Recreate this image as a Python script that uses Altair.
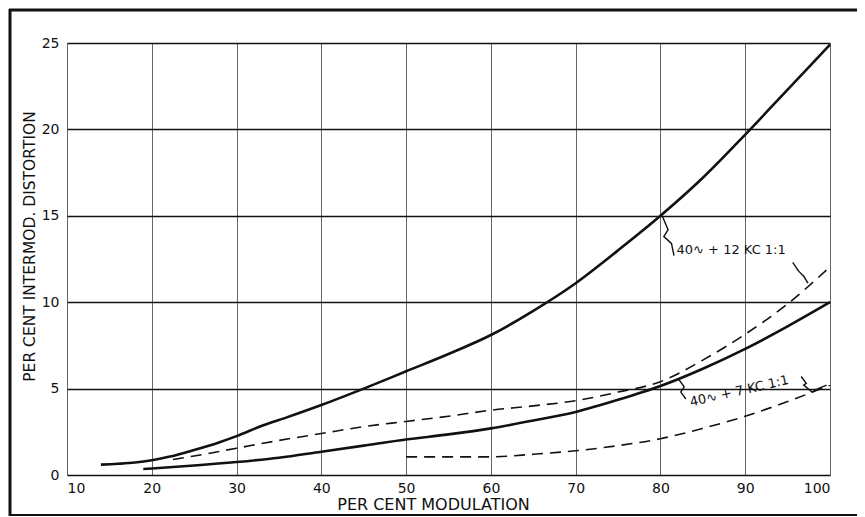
import altair as alt
import pandas as pd

# ---- data ----
x_a = [14, 16, 18, 20, 22, 25, 28, 30, 33, 36, 40, 45, 50, 55, 60, 65, 70, 75, 80, 85, 90, 95, 100]
y_a = [0.6, 0.65, 0.72, 0.85, 1.05, 1.45, 1.9, 2.25, 2.85, 3.35, 4.05, 5.0, 6.0, 7.0, 8.1, 9.5, 11.1, 13.0, 15.0, 17.2, 19.7, 22.3, 24.9]

x_b = [22.5, 25, 30, 35, 40, 45, 50, 55, 60, 65, 70, 75, 80, 85, 90, 95, 100]
y_b = [0.9, 1.1, 1.55, 2.0, 2.4, 2.8, 3.1, 3.4, 3.75, 4.0, 4.3, 4.8, 5.4, 6.65, 8.15, 9.9, 12.05]

x_c = [19, 20, 25, 30, 35, 40, 45, 50, 55, 60, 65, 70, 75, 80, 85, 90, 95, 100]
y_c = [0.35, 0.38, 0.55, 0.75, 1.0, 1.35, 1.7, 2.05, 2.35, 2.7, 3.15, 3.65, 4.35, 5.15, 6.15, 7.3, 8.6, 10.0]

x_d = [50, 55, 60, 65, 70, 75, 80, 85, 90, 95, 100]
y_d = [1.05, 1.05, 1.05, 1.2, 1.4, 1.7, 2.1, 2.7, 3.4, 4.25, 5.2]

x_ticks = [10, 20, 30, 40, 50, 60, 70, 80, 90, 100]
y_ticks = [0, 5, 10, 15, 20, 25]

label_12 = "40∿ + 12 KC  1:1"
label_7 = "40∿ + 7 KC  1:1"

# leader squiggles (data coordinates)
lead_12a_x = [80.2, 80.9, 80.4, 81.3, 81.6]
lead_12a_y = [15.0, 14.2, 13.8, 13.4, 12.7]
lead_12b_x = [95.6, 96.3, 96.1, 96.9, 97.4]
lead_12b_y = [12.3, 11.8, 11.9, 11.5, 11.1]
lead_7a_x = [82.2, 82.8, 82.4, 83.0]
lead_7a_y = [5.5, 5.1, 4.8, 4.4]
lead_7b_x = [96.6, 97.2, 96.9, 97.9, 98.6, 99.6]
lead_7b_y = [5.7, 5.3, 5.2, 4.8, 5.0, 5.2]

def frame(xs, ys, name):
    return pd.DataFrame({"x": xs, "y": ys, "s": name, "o": range(len(xs))})

solid = pd.concat([frame(x_a, y_a, "A"), frame(x_c, y_c, "C")])
dashed = pd.concat([frame(x_b, y_b, "B"), frame(x_d, y_d, "D")])
leads = pd.concat([
    frame(lead_12a_x, lead_12a_y, "L1"),
    frame(lead_12b_x, lead_12b_y, "L2"),
    frame(lead_7a_x, lead_7a_y, "L3"),
    frame(lead_7b_x, lead_7b_y, "L4"),
])

xs = alt.Scale(domain=[10, 100], nice=False, zero=False)
ys = alt.Scale(domain=[0, 25], nice=False)

X = alt.X("x:Q", scale=xs, axis=alt.Axis(
    values=x_ticks, title="PER CENT MODULATION", grid=True, gridColor="#666", gridWidth=1,
    ticks=False, domain=False, labelPadding=6, labelFontSize=14, labelColor="#111",
    labelFont="DejaVu Sans", titleFont="DejaVu Sans", titleFontSize=16, titleFontWeight="normal",
    titleX=366, titleY=21, titleAlign="center", titleBaseline="top", titleColor="#111"))
Y = alt.Y("y:Q", scale=ys, axis=alt.Axis(
    values=y_ticks, title="PER CENT INTERMOD. DISTORTION", grid=True, gridColor="#111", gridWidth=1.3,
    ticks=False, domain=False, labelPadding=8, labelFontSize=14, labelColor="#111",
    labelFont="DejaVu Sans", titleFont="DejaVu Sans", titleFontSize=15.5, titleFontWeight="normal",
    titleX=-38, titleY=203, titleAngle=270, titleAlign="center", titleBaseline="middle", titleColor="#111"))

base = alt.Chart(solid).mark_line(color="#111", strokeWidth=2.6, interpolate="monotone").encode(
    x=X, y=Y, detail="s:N", order="o:Q")

dash = alt.Chart(dashed).mark_line(color="#111", strokeWidth=1.6, strokeDash=[11, 7], interpolate="monotone").encode(
    x=alt.X("x:Q", scale=xs), y=alt.Y("y:Q", scale=ys), detail="s:N", order="o:Q")

lead = alt.Chart(leads).mark_line(color="#111", strokeWidth=1.4).encode(
    x=alt.X("x:Q", scale=xs), y=alt.Y("y:Q", scale=ys), detail="s:N", order="o:Q")

t12 = alt.Chart(pd.DataFrame({"x": [81.9], "y": [13.0], "t": [label_12]})).mark_text(
    align="left", baseline="middle", font="DejaVu Sans", fontSize=13, color="#111").encode(
    x=alt.X("x:Q", scale=xs), y=alt.Y("y:Q", scale=ys), text="t:N")

t7 = alt.Chart(pd.DataFrame({"x": [89.3], "y": [4.85], "t": [label_7]})).mark_text(
    align="center", baseline="middle", font="DejaVu Sans", fontSize=13, color="#111", angle=347).encode(
    x=alt.X("x:Q", scale=xs), y=alt.Y("y:Q", scale=ys), text="t:N")

one = pd.DataFrame({"a": [0]})
border_left = alt.Chart(one).mark_rule(color="#111", strokeWidth=3).encode(
    x=alt.value(-57), y=alt.value(-34), y2=alt.value(473))
border_top = alt.Chart(one).mark_rule(color="#111", strokeWidth=3).encode(
    x=alt.value(-58), x2=alt.value(790), y=alt.value(-33))
border_bottom = alt.Chart(one).mark_rule(color="#111", strokeWidth=2).encode(
    x=alt.value(-58), x2=alt.value(790), y=alt.value(472))

chart = alt.layer(base, dash, lead, t12, t7, border_left, border_top, border_bottom).properties(
    width=763, height=432,
    autosize=alt.AutoSizeParams(type="none"),
    padding={"left": 59, "top": 35, "right": 27, "bottom": 42},
).configure_view(stroke="#111", strokeWidth=2.5).configure(background="white")

chart.save("out.html", embed_options={"renderer": "svg", "actions": False})
